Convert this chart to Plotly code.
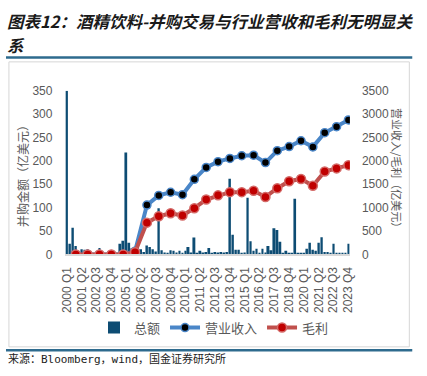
import plotly.graph_objects as go

# ---------------- data ----------------
years = list(range(2000, 2024))
quarters = [f"{y} Q{q}" for y in years for q in range(1, 5)]

# M&A deal value per quarter (亿美元), 2000 Q1 .. 2023 Q4
deal_total = [
    350, 23, 57, 18,   3, 11, 10, 11,   2, 1, 3, 14,   2, 1, 2, 1,   2, 3, 23, 29,      # 2000-2004
    218, 25, 13, 3,    14, 11, 5, 19,   16, 11, 6, 99,  9, 4, 3, 9,   8, 4, 8, 3,      # 2005-2009
    8, 16, 4, 36,      3, 8, 4, 5,     14, 3, 5, 4,    5, 4, 5, 162, 42, 10, 10, 3,    # 2010-2014
    4, 121, 28, 8,     12, 3, 12, 4,   18, 9, 56, 52,  27, 3, 8, 3,   3, 119, 3, 3,    # 2015-2019
    3, 12, 25, 10,     8, 25, 37, 5,   5, 2, 23, 3,    3, 2, 2, 23,                    # 2020-2023
]

# annual revenue and gross profit (亿美元), plotted at each year's Q4
revenue = [0, 0, 0, 0, 0, 70, 1055, 1262, 1330, 1277, 1607, 1860, 1984, 2053, 2110,
           2122, 1964, 2218, 2307, 2431, 2300, 2603, 2733, 2877]
gross_profit = [0, 0, 0, 0, 0, 45, 680, 817, 879, 831, 989, 1174, 1263, 1332, 1332,
                1360, 1229, 1415, 1566, 1614, 1470, 1772, 1840, 1909]
line_x = [f"{y} Q4" for y in years]

tick_labels = quarters[::5]

title_line1 = "图表12：酒精饮料-并购交易与行业营收和毛利无明显关"
title_line2 = "系"
source_text = "来源：Bloomberg，wind，国金证券研究所"

# ---------------- figure ----------------
W, H = 427, 376
def px(x):
    return x / W
def py(y):
    return 1 - y / H

CJK = "Liberation Sans, Noto Sans CJK SC"
GREY = "#595959"

fig = go.Figure()
fig.add_trace(go.Bar(
    x=quarters, y=deal_total, name="总额",
    marker=dict(color="#0D4C73", line=dict(width=0)),
    yaxis="y",
))
fig.add_trace(go.Scatter(
    x=line_x, y=revenue, name="营业收入", mode="lines+markers",
    line=dict(color="#4A86C8", width=4),
    marker=dict(color="#000000", size=8, line=dict(color="#4A86C8", width=1.5)),
    yaxis="y2",
))
fig.add_trace(go.Scatter(
    x=line_x, y=gross_profit, name="毛利", mode="lines+markers",
    line=dict(color="#C0504D", width=4),
    marker=dict(color="#C00000", size=9, line=dict(color="#D46A68", width=1.5)),
    yaxis="y2",
))

fig.update_layout(
    width=W, height=H,
    margin=dict(l=0, r=0, t=0, b=0),
    paper_bgcolor="white", plot_bgcolor="rgba(0,0,0,0)",
    font=dict(family=CJK, color=GREY, size=12),
    bargap=0.33,
    showlegend=True,
    legend=dict(orientation="h", x=0.5, xanchor="center", y=py(333), yanchor="middle",
                font=dict(size=13, color=GREY, family=CJK), itemwidth=30,
                bgcolor="rgba(0,0,0,0)"),
    xaxis=dict(
        type="category", categoryorder="array", categoryarray=quarters,
        domain=[px(61), px(353)], range=[-0.5, 95.5],
        tickmode="array", tickvals=tick_labels, ticktext=tick_labels,
        tickangle=-90, tickfont=dict(size=12, color=GREY, family="Liberation Sans"),
        showline=True, linecolor="#D9D9D9", linewidth=1.5,
        showgrid=False, zeroline=False, ticks="", ticklabelstandoff=6,
    ),
    yaxis=dict(
        domain=[py(257), py(87)], range=[0, 350], dtick=50,
        showgrid=False, zeroline=False, showline=False, ticks="",
        tickfont=dict(size=12, color=GREY, family="Liberation Sans"),
        ticklabelstandoff=12,
    ),
    yaxis2=dict(
        overlaying="y", side="right", range=[0, 3500], dtick=500,
        showgrid=False, zeroline=False, showline=False, ticks="",
        tickfont=dict(size=12, color=GREY, family="Liberation Sans"),
        ticklabelstandoff=11,
    ),
)

fig.add_annotation(
    text=f"<b><i>{title_line1}</i></b>",
    x=0, xref="paper", xanchor="left", y=py(15), yref="paper", yanchor="middle",
    align="left", showarrow=False, borderpad=0,
    font=dict(size=16.5, color="#1A1A1A", family="Noto Sans CJK SC"),
)
fig.add_annotation(
    text=f"<b><i>{title_line2}</i></b>",
    x=0, xref="paper", xanchor="left", y=py(39), yref="paper", yanchor="middle",
    align="left", showarrow=False, borderpad=0,
    font=dict(size=16.5, color="#1A1A1A", family="Noto Sans CJK SC"),
)
fig.add_annotation(
    text="并购金额（亿美元）", textangle=-90,
    x=px(17), xref="paper", xanchor="center", y=py(173), yref="paper", yanchor="middle",
    showarrow=False, font=dict(size=12, color=GREY, family="Noto Sans CJK SC"),
)
fig.add_annotation(
    text="营业收入/毛利（亿美元）", textangle=90,
    x=px(402), xref="paper", xanchor="center", y=py(170), yref="paper", yanchor="middle",
    showarrow=False, font=dict(size=11, color=GREY, family="Noto Sans CJK SC"),
)
fig.add_annotation(
    text=source_text,
    x=0, xref="paper", xanchor="left", y=py(366), yref="paper", yanchor="middle",
    showarrow=False, font=dict(size=11, color="#222222", family="DejaVu Sans Mono, Noto Sans CJK SC"),
)

# frame and rules
fig.add_shape(type="rect", xref="paper", yref="paper",
              x0=px(3), x1=px(414), y0=py(353), y1=py(57),
              line=dict(color="#D6D6D6", width=1), layer="below")
fig.add_shape(type="line", xref="paper", yref="paper",
              x0=0, x1=px(417), y0=py(52.5), y1=py(52.5),
              line=dict(color="#2E6B8E", width=2.5))
fig.add_shape(type="line", xref="paper", yref="paper",
              x0=0, x1=px(417), y0=py(356.5), y1=py(356.5),
              line=dict(color="#2E6B8E", width=2.5))

fig.write_html(
    "out.html",
    config={"displayModeBar": False},
    post_script="document.body.style.margin='0';document.body.style.overflow='hidden';",
)
